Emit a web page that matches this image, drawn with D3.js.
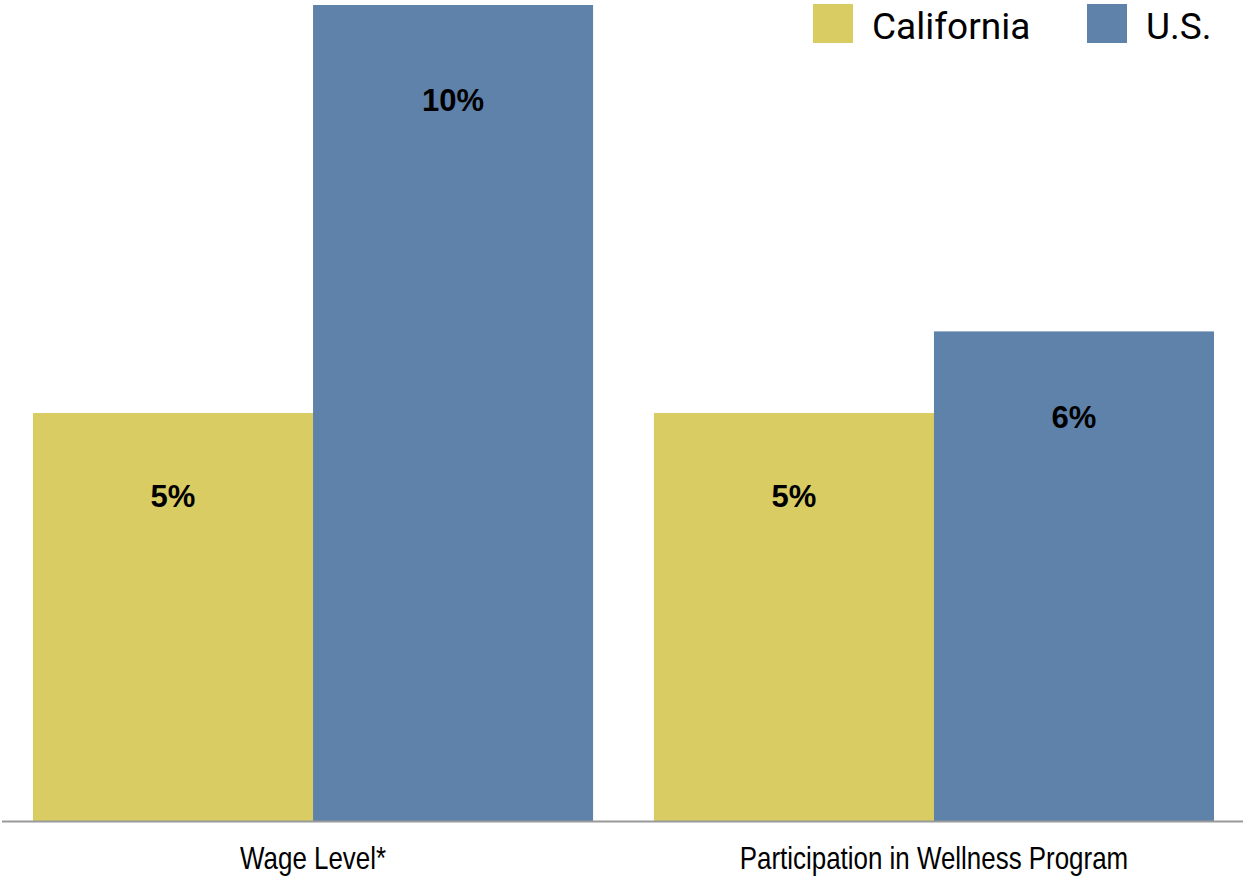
<!DOCTYPE html>
<meta charset='utf-8'>
<html>
  <head>
    <script src="https://d3js.org/d3.v7.min.js"></script>
    <style>
      body { margin: 0; background: #fff; }
    </style>
  </head>
  <body>
    <div id="chart"></div>
    <script>
        // data
        var categories = ["Wage Level*", "Participation in Wellness Program"]
        var seriesNames = ["California", "U.S."]
        var california = [5, 5]
        var us = [10, 6]
        var colors = ["#d9cc62", "#5f82ab"]

        var W = 1243, H = 880
        var margin = { top: 5, right: 29, bottom: 59, left: 33 }
        var h = H - margin.top - margin.bottom
        var w = W - margin.left - margin.right

        var rows = categories.map(function (c, i) {
            return { cat: c, vals: [california[i], us[i]] }
        })

        var svg = d3.select('#chart').append('svg')
            .attr('width', W)
            .attr('height', H)

        var g = svg.append('g')
            .attr('transform', 'translate(' + margin.left + ',' + margin.top + ')')

        // Scales
        var x0 = d3.scaleBand()
            .domain(categories)
            .range([0, w])
            .paddingInner(0.098)
            .paddingOuter(0)
        var x1 = d3.scaleBand()
            .domain(seriesNames)
            .range([0, x0.bandwidth()])
        var y = d3.scaleLinear()
            .domain([0, 10])
            .range([h, 0])

        var groups = g.selectAll('.grp')
            .data(rows)
            .enter()
            .append('g')
            .attr('class', 'grp')
            .attr('transform', function (d) { return 'translate(' + x0(d.cat) + ',0)' })

        groups.selectAll('rect')
            .data(function (d) { return d.vals.map(function (v, i) { return { s: seriesNames[i], v: v, i: i } }) })
            .enter()
            .append('rect')
            .attr('x', function (d) { return x1(d.s) })
            .attr('y', function (d) { return y(d.v) })
            .attr('width', x1.bandwidth())
            .attr('height', function (d) { return h - y(d.v) })
            .attr('fill', function (d) { return colors[d.i] })

        // value labels
        groups.selectAll('.val')
            .data(function (d) { return d.vals.map(function (v, i) { return { s: seriesNames[i], v: v } }) })
            .enter()
            .append('text')
            .attr('class', 'val')
            .attr('x', function (d) { return x1(d.s) + x1.bandwidth() / 2 })
            .attr('y', function (d) { return y(d.v) + 71 + 0.03 * (h - y(d.v)) })
            .attr('dy', '0.35em')
            .attr('text-anchor', 'middle')
            .style('font-family', '"Liberation Sans", Arial, sans-serif')
            .style('font-weight', 'bold')
            .style('font-size', '31px')
            .style('fill', '#000')
            .text(function (d) { return d.v + '%' })

        // baseline
        svg.append('line')
            .attr('x1', 2).attr('x2', W)
            .attr('y1', margin.top + h + 0.5).attr('y2', margin.top + h + 0.5)
            .attr('stroke', '#999')
            .attr('stroke-width', 2)

        // x axis labels (condensed look via horizontal squeeze)
        var xAxis = d3.axisBottom(x0).tickSize(0).tickPadding(25)
        var ax = g.append('g')
            .attr('transform', 'translate(0,' + h + ')')
            .call(xAxis)
        ax.select('.domain').remove()
        ax.selectAll('text')
            .attr('transform', 'scale(0.81,1)')
            .style('font-family', '"Liberation Sans", Arial, sans-serif')
            .style('font-size', '32px')
            .style('fill', '#000')

        // legend
        var legX = [813, 1087]
        var leg = svg.selectAll('.leg')
            .data(seriesNames)
            .enter()
            .append('g')
            .attr('class', 'leg')
            .attr('transform', function (d, i) { return 'translate(' + legX[i] + ',4)' })
        leg.append('rect')
            .attr('width', 40).attr('height', 39)
            .attr('fill', function (d, i) { return colors[i] })
        leg.append('text')
            .attr('x', 59)
            .attr('y', 22)
            .attr('dy', '0.35em')
            .style('font-family', 'Roboto, sans-serif')
            .style('font-size', '37px')
            .style('fill', '#000')
            .text(function (d) { return d })
    </script>
  </body>
</html>
